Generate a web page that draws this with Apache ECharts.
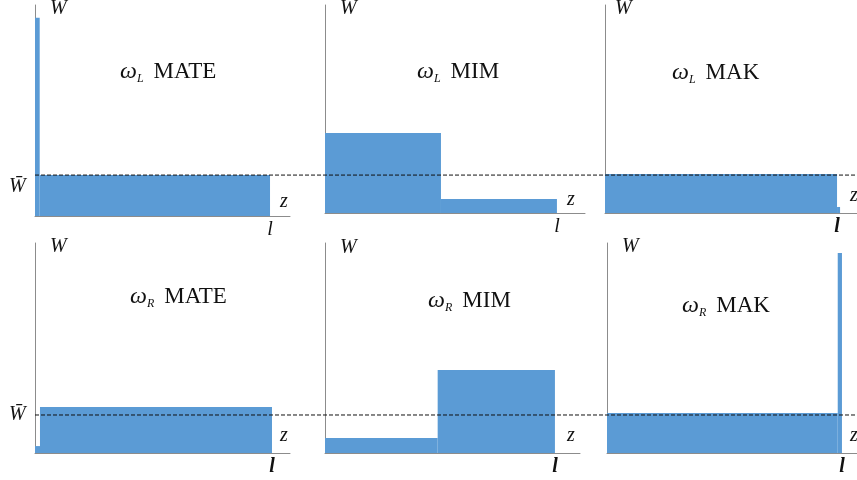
<!DOCTYPE html>
<html>
<head>
<meta charset="utf-8">
<script src="https://cdn.jsdelivr.net/npm/echarts@6/dist/echarts.min.js"></script>
<style>
  html, body { margin: 0; padding: 0; background: #fff; }
  #main { width: 857px; height: 480px; }
</style>
</head>
<body>
<div id="main"></div>
<script>
// 各子图的标题与下标
var methods = ['MATE', 'MIM', 'MAK', 'MATE', 'MIM', 'MAK'];
var sides = ['L', 'L', 'L', 'R', 'R', 'R'];

// 每段柱子: [起点z, 终点z, 高度W]，z 以 l = 1 为长度
var segLMate = [[0, 0.02, 9.4], [0.02, 1, 1.94]];
var segLMim  = [[0, 0.5, 3.85], [0.5, 1, 0.67]];
var segLMak  = [[0, 1, 1.88], [1, 1.013, 0.29]];
var segRMate = [[0, 0.021, 0.33], [0.021, 1, 2.19]];
var segRMim  = [[0, 0.49, 0.71], [0.49, 1, 3.95]];
var segRMak  = [[0, 0.982, 1.9], [0.982, 1, 9.52]];
var segments = [segLMate, segLMim, segLMak, segRMate, segRMim, segRMak];

// 平均值 W̄ (上排, 下排)
var wBar = [1.94, 1.81];

// 布局
var grids = [
  { left: 35,  top: 5,   width: 255, height: 211 },
  { left: 325, top: 5,   width: 260, height: 208 },
  { left: 605, top: 5,   width: 252, height: 208 },
  { left: 35,  top: 243, width: 255, height: 210 },
  { left: 325, top: 243, width: 255, height: 210 },
  { left: 607, top: 243, width: 250, height: 210 }
];
var xMax = [1.085, 1.121, 1.086, 1.076, 1.109, 1.064];
var lBold = [false, false, true, true, true, true];
var titlePos = [[120, 74], [417, 74], [672, 75], [130, 299], [428, 303], [682, 308]];
var wPos = [[50, 9], [340, 9], [615, 9], [50, 247], [340, 248], [622, 247]];
var zPos = [[285, 203], [572, 201], [855, 197], [285, 437], [572, 437], [855, 437]];

var myChart = echarts.init(document.getElementById('main'));

var gridList = [], xAxes = [], yAxes = [], series = [], graphics = [];
var axisLine = { show: true, lineStyle: { color: '#8c8c8c', width: 1 } };

grids.forEach(function (g, i) {
  gridList.push(g);
  xAxes.push({
    type: 'value', gridIndex: i, min: 0, max: xMax[i], interval: 1,
    axisLine: axisLine, axisTick: { show: false }, splitLine: { show: false },
    axisLabel: {
      showMaxLabel: false, margin: 4,
      fontFamily: 'Liberation Serif', fontStyle: 'italic',
      fontWeight: lBold[i] ? 'bold' : 'normal', fontSize: 20, color: '#111',
      formatter: function (v) { return v === 1 ? 'l' : ''; }
    }
  });
  yAxes.push({
    type: 'value', gridIndex: i, min: 0, max: 10,
    axisLine: axisLine, axisTick: { show: false }, splitLine: { show: false },
    axisLabel: { show: false }
  });
  series.push({
    type: 'custom', xAxisIndex: i, yAxisIndex: i,
    data: segments[i],
    renderItem: function (params, api) {
      var p0 = api.coord([api.value(0), api.value(2)]);
      var p1 = api.coord([api.value(1), 0]);
      return {
        type: 'rect',
        shape: { x: p0[0], y: p0[1], width: p1[0] - p0[0], height: p1[1] - p0[1] },
        style: { fill: '#5b9bd5' }
      };
    },
    z: 2
  });

  graphics.push({
    type: 'text', left: titlePos[i][0], top: titlePos[i][1] - 14,
    style: {
      text: '{w|ω}{s|' + sides[i] + '}   {t|' + methods[i] + '}',
      rich: {
        w: { fontFamily: 'Liberation Serif', fontStyle: 'italic', fontSize: 24, fill: '#111' },
        s: { fontFamily: 'Liberation Serif', fontStyle: 'italic', fontSize: 12, fill: '#111', padding: [14, 0, 0, 0] },
        t: { fontFamily: 'Liberation Serif', fontSize: 23, fill: '#111' }
      }
    }
  });
  graphics.push({
    type: 'text', left: wPos[i][0], top: wPos[i][1] - 10,
    style: { text: 'W', font: 'italic 20px "Liberation Serif"', fill: '#111' }
  });
  graphics.push({
    type: 'text', left: zPos[i][0] - 5, top: zPos[i][1] - 11,
    style: { text: 'z', font: 'italic 20px "Liberation Serif"', fill: '#111' }
  });
});

// 虚线 W̄ ，横跨整排
[[35, 5, 211, wBar[0]], [35, 243, 210, wBar[1]]].forEach(function (r, k) {
  var gi = gridList.length;
  gridList.push({ left: r[0], right: 0, top: r[1], height: r[2] });
  xAxes.push({ type: 'value', gridIndex: gi, min: 0, max: 1, show: false });
  yAxes.push({ type: 'value', gridIndex: gi, min: 0, max: 10, show: false });
  series.push({
    type: 'line', xAxisIndex: gi, yAxisIndex: gi, symbol: 'none', silent: true,
    data: [[0, r[3]], [1, r[3]]],
    lineStyle: { color: '#111', width: 1, type: [4, 2] }, z: 5
  });
});

graphics.push({
  type: 'text', left: 9, top: 177,
  style: { text: 'W̄', font: 'italic 20px "Liberation Serif"', fill: '#111' }
});
graphics.push({
  type: 'text', left: 9, top: 405,
  style: { text: 'W̄', font: 'italic 20px "Liberation Serif"', fill: '#111' }
});

var option = {
  animation: false,
  grid: gridList,
  xAxis: xAxes,
  yAxis: yAxes,
  series: series,
  graphic: graphics
};
myChart.setOption(option);
</script>
</body>
</html>
